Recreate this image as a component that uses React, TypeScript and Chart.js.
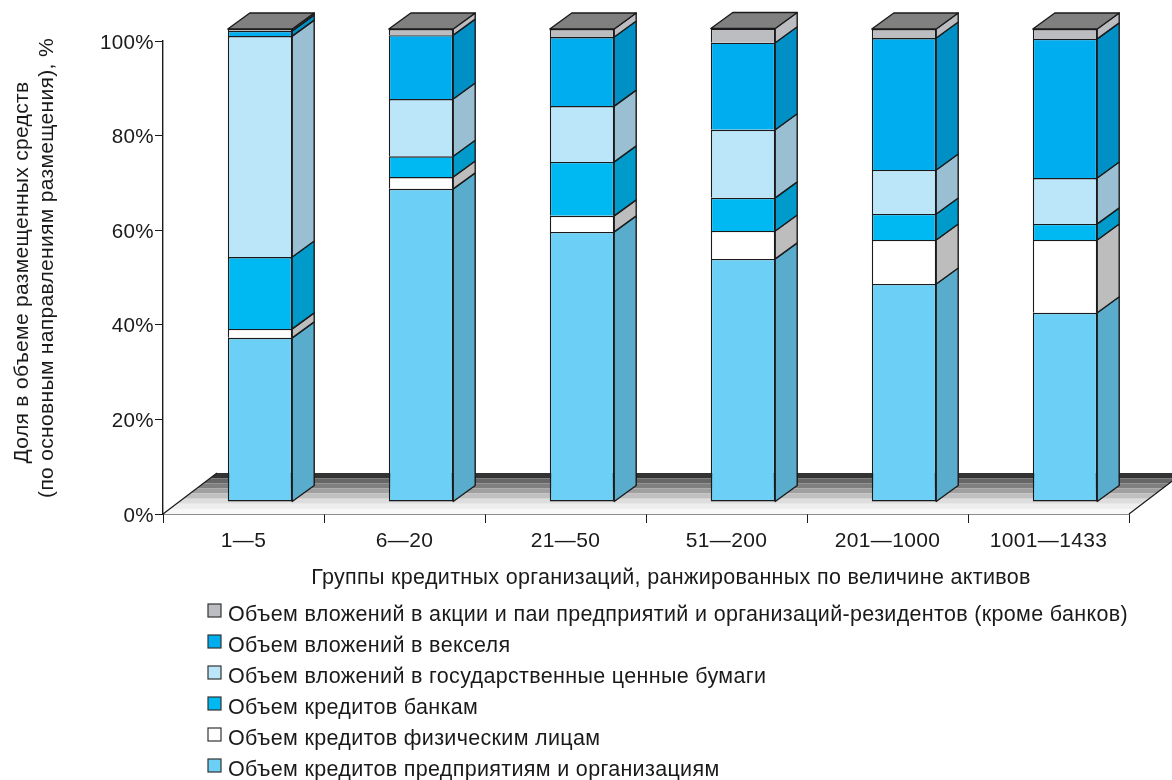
import React, { useEffect, useRef } from "react";
import { Chart, registerables } from "chart.js";

Chart.register(...registerables);

const categories = ["1—5", "6—20", "21—50", "51—200", "201—1000", "1001—1433"];
const corporateLoans = [34.7, 66.2, 57.1, 51.4, 46.1, 40.0];
const retailLoans = [1.9, 2.5, 3.4, 5.9, 9.3, 15.4];
const bankLoans = [15.2, 4.4, 11.4, 7.0, 5.5, 3.4];
const govSecurities = [46.7, 12.1, 11.8, 14.4, 9.3, 9.7];
const promissoryNotes = [1.1, 13.5, 14.6, 18.4, 27.9, 29.4];
const shares = [0.4, 1.3, 1.7, 3.0, 1.9, 2.1];

const yTitleLines = ["Доля в объеме размещенных средств", "(по основным направлениям размещения), %"];
const xTitle = "Группы кредитных организаций, ранжированных по величине активов";

const FONT = "'Liberation Sans', Arial, sans-serif";
const SPACING = "0.33px";
const INK = "#1a1a1a";
const DX = 22;
const DY = 16;
const SHIFT_X = 16.5;
const SHIFT_Y = -12;
const FLOOR_DX = 54;
const FLOOR_DY = 41;
const FLOOR_BANDS = ["#333333", "#666666", "#7f7f7f", "#a0a0a0", "#c0c0c0", "#dddddd", "#eeeeee", "#f8f8f8"];

const series = [
  { label: "Объем кредитов предприятиям и организациям", data: corporateLoans, color: "#6bcff6", side: "#5aaccd" },
  { label: "Объем кредитов физическим лицам", data: retailLoans, color: "#ffffff", side: "#bdbdbd" },
  { label: "Объем кредитов банкам", data: bankLoans, color: "#00b9f2", side: "#009bcb" },
  { label: "Объем вложений в государственные ценные бумаги", data: govSecurities, color: "#bbe5f9", side: "#9bbfd2" },
  { label: "Объем вложений в векселя", data: promissoryNotes, color: "#00adef", side: "#0090c6" },
  { label: "Объем вложений в акции и паи предприятий и организаций-резидентов (кроме банков)", data: shares, color: "#bcbdc0", side: "#bcbdc0" },
];

const bar3d = {
  id: "bar3d",
  beforeDraw(chart: any) {
    chart.ctx.letterSpacing = SPACING;
  },
  beforeDatasetsDraw(chart: any) {
    const { ctx, chartArea: a } = chart;
    ctx.save();
    FLOOR_BANDS.forEach((c, i) => {
      const t0 = i / FLOOR_BANDS.length;
      const t1 = (i + 1) / FLOOR_BANDS.length;
      ctx.fillStyle = c;
      ctx.beginPath();
      ctx.moveTo(a.left + FLOOR_DX * (1 - t0), a.bottom - FLOOR_DY * (1 - t0));
      ctx.lineTo(a.right + FLOOR_DX * (1 - t0), a.bottom - FLOOR_DY * (1 - t0));
      ctx.lineTo(a.right + FLOOR_DX * (1 - t1), a.bottom - FLOOR_DY * (1 - t1));
      ctx.lineTo(a.left + FLOOR_DX * (1 - t1), a.bottom - FLOOR_DY * (1 - t1));
      ctx.closePath();
      ctx.fill();
    });
    ctx.strokeStyle = INK;
    ctx.lineWidth = 1.2;
    ctx.beginPath();
    ctx.moveTo(a.left, a.bottom);
    ctx.lineTo(a.left + FLOOR_DX, a.bottom - FLOOR_DY);
    ctx.moveTo(a.right, a.bottom);
    ctx.lineTo(a.right + FLOOR_DX, a.bottom - FLOOR_DY);
    ctx.stroke();
    ctx.restore();
    ctx.save();
    ctx.translate(SHIFT_X, SHIFT_Y);
  },
  afterDatasetsDraw(chart: any) {
    const { ctx } = chart;
    ctx.lineWidth = 1.4;
    ctx.strokeStyle = INK;
    ctx.lineJoin = "round";
    const n = chart.data.datasets.length;
    chart.data.datasets.forEach((ds: any, di: number) => {
      const meta = chart.getDatasetMeta(di);
      meta.data.forEach((bar: any) => {
        const p = bar.getProps(["x", "y", "base", "width"], true);
        const r = p.x + p.width / 2;
        const l = p.x - p.width / 2;
        ctx.fillStyle = series[di].side;
        ctx.beginPath();
        ctx.moveTo(r, p.base);
        ctx.lineTo(r + DX, p.base - DY);
        ctx.lineTo(r + DX, p.y - DY);
        ctx.lineTo(r, p.y);
        ctx.closePath();
        ctx.fill();
        ctx.stroke();
        if (di === n - 1) {
          ctx.fillStyle = "#808080";
          ctx.beginPath();
          ctx.moveTo(l, p.y);
          ctx.lineTo(l + DX, p.y - DY);
          ctx.lineTo(r + DX, p.y - DY);
          ctx.lineTo(r, p.y);
          ctx.closePath();
          ctx.fill();
          ctx.stroke();
        }
      });
    });
    ctx.restore();
  },
  afterDraw(chart: any) {
    const { ctx } = chart;
    ctx.save();
    ctx.font = `21.5px ${FONT}`;
    ctx.textBaseline = "alphabetic";
    ctx.textAlign = "left";
    [...series].reverse().forEach((s, i) => {
      const base = 621 + i * 31;
      ctx.fillStyle = s.color;
      ctx.strokeStyle = "#333333";
      ctx.lineWidth = 1.2;
      ctx.fillRect(208, base - 17, 13, 13);
      ctx.strokeRect(208, base - 17, 13, 13);
      ctx.fillStyle = "#1a1a1a";
      ctx.fillText(s.label, 228, base);
    });
    ctx.textAlign = "center";
    ctx.fillText(xTitle, 671, 584);
    ctx.font = `21px ${FONT}`;
    const placed = [
      { x: 28, y: 272.5 },
      { x: 53, y: 268 },
    ];
    yTitleLines.forEach((line, i) => {
      ctx.save();
      ctx.translate(placed[i].x, placed[i].y);
      ctx.rotate(-Math.PI / 2);
      ctx.fillText(line, 0, 0);
      ctx.restore();
    });
    ctx.restore();
  },
};

export default function App() {
  const ref = useRef<HTMLCanvasElement>(null);
  useEffect(() => {
    document.body.style.margin = "0";
    const context: any = ref.current!.getContext("2d");
    context.letterSpacing = SPACING;
    const chart = new Chart(ref.current!, {
      type: "bar",
      data: {
        labels: categories,
        datasets: series.map((s, i) => ({
          label: s.label,
          data: s.data,
          backgroundColor: s.color,
          borderColor: INK,
          borderWidth: 1.4,
          borderSkipped: i === 0 ? false : "start",
          barPercentage: 0.4,
          categoryPercentage: 1,
          clip: false as any,
        })),
      },
      options: {
        animation: false,
        responsive: false,
        layout: { padding: { top: 41, right: 43, bottom: 191, left: 0 } },
        plugins: { legend: { display: false }, tooltip: { enabled: false } },
        scales: {
          x: {
            stacked: true,
            afterFit: (s: any) => { s.height = 75; },
            grid: { drawOnChartArea: false, offset: true, tickLength: 9, color: INK, tickColor: INK },
            border: { color: INK, width: 1.4 },
            ticks: { color: "#1a1a1a", font: { family: FONT, size: 21 }, padding: 6, maxRotation: 0, autoSkip: false },
          },
          y: {
            stacked: true,
            min: 0,
            max: 100,
            afterFit: (s: any) => { s.width = 163; },
            grid: { drawOnChartArea: false, tickLength: 8, color: INK, tickColor: INK },
            border: { color: INK, width: 1.4 },
            ticks: {
              stepSize: 20,
              color: "#1a1a1a",
              font: { family: FONT, size: 20.6 },
              padding: 1,
              labelOffset: 2,
              callback: (v: any) => `${v}%`,
            },
          },
        },
      },
      plugins: [bar3d],
    } as any);
    return () => chart.destroy();
  }, []);
  return <canvas ref={ref} width={1172} height={780} style={{ display: "block" }} />;
}
